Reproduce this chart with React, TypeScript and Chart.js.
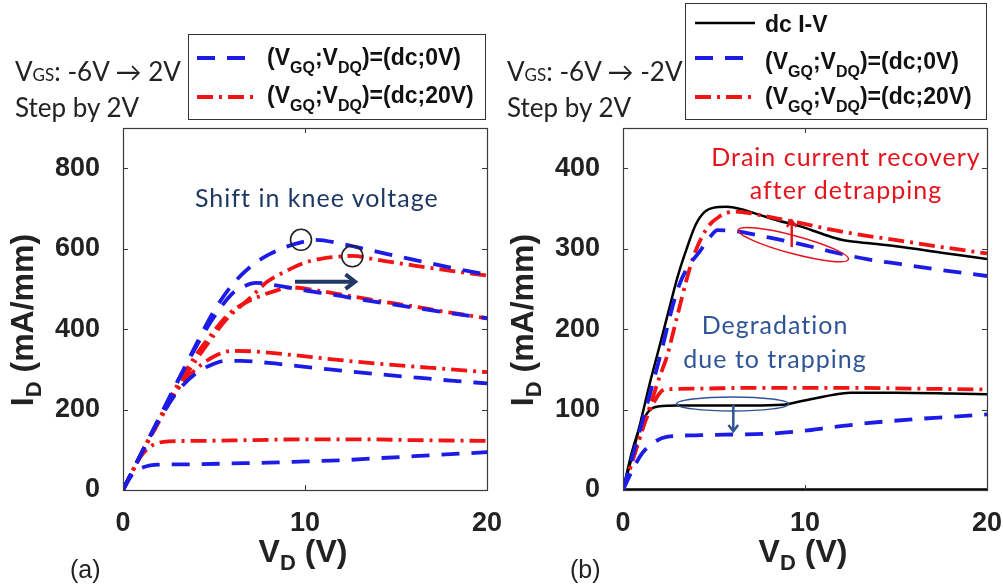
import React, { useEffect, useRef } from "react";
import { Chart, registerables } from "chart.js";
Chart.register(...registerables);

// ---------- ticks ----------
const xTicks = [0, 10, 20];
const yTicksA = [0, 200, 400, 600, 800];
const yTicksB = [0, 100, 200, 300, 400];

// ---------- panel (a) : pulsed I-V ----------
// (VGQ;VDQ)=(dc;0V)  blue dashed
const aBlue1X = [0, 0.5, 1, 1.5, 2, 4, 6, 8, 10, 12, 14, 16, 18, 20];
const aBlue1Y = [0, 38, 54, 61, 63, 64, 66, 68, 71, 74, 79, 84, 89, 94];
const aBlue2X = [0, 1, 2, 3, 4, 5, 5.6, 6.5, 8, 10, 12, 14, 16, 18, 20];
const aBlue2Y = [0, 90, 175, 245, 290, 314, 321, 321, 316, 306, 297, 288, 280, 272, 265];
const aBlue3X = [0, 1, 2, 3, 4, 5, 6, 6.5, 7.3, 8.5, 10, 11.5, 13, 15, 17.5, 20];
const aBlue3Y = [0, 90, 180, 270, 355, 430, 488, 503, 515, 508, 496, 486, 474, 460, 443, 427];
const aBlue4X = [0, 1, 2, 3, 4, 5, 6, 7, 8, 9, 10, 10.6, 12, 14, 16, 18, 20];
const aBlue4Y = [0, 90, 180, 270, 360, 445, 510, 555, 585, 605, 618, 622, 612, 592, 572, 553, 535];
// (VGQ;VDQ)=(dc;20V)  red dash-dot
const aRed1X = [0, 0.5, 1, 1.5, 2, 2.5, 4, 7, 10, 13, 16, 20];
const aRed1Y = [0, 45, 85, 108, 118, 121, 122, 124, 126, 126, 124, 122];
const aRed2X = [0, 1, 2, 3, 4, 5, 6, 7, 9, 11.5, 14, 16, 18, 20];
const aRed2Y = [0, 90, 175, 250, 300, 332, 346, 345, 337, 325, 314, 307, 300, 293];
const aRed3X = [0, 1, 2, 3, 4, 5, 5.7, 6.5, 7.7, 8.5, 9.2, 10.5, 12, 13.4, 16, 18, 20];
const aRed3Y = [0, 90, 178, 262, 335, 395, 433, 460, 485, 497, 504, 497, 486, 475, 456, 441, 427];
const aRed4X = [0, 1, 2, 3, 4, 5, 5.7, 7, 7.9, 9, 10.1, 11, 12, 12.6, 14, 16, 18, 20];
const aRed4Y = [0, 88, 172, 252, 322, 385, 425, 478, 517, 545, 567, 576, 581, 582, 572, 558, 545, 533];

// ---------- panel (b) ----------
// dc I-V black solid
const bDc0X = [0, 20];
const bDc0Y = [0, 0];
const bDc1X = [0, 0.5, 1, 1.5, 2, 3, 5, 7, 8.8, 9.7, 11, 12.5, 15, 18, 20];
const bDc1Y = [0, 48, 82, 100, 104, 105, 105, 105, 106, 110, 116, 121, 121, 120, 119];
const bDc2X = [0, 0.5, 1, 1.5, 2, 2.5, 3, 3.5, 4, 4.5, 5, 5.7, 6.5, 7.5, 8.5, 9.7, 11, 12, 13, 15, 17.5, 20];
const bDc2Y = [0, 42, 88, 135, 178, 222, 265, 300, 330, 346, 351, 352, 349, 342, 335, 328, 318, 311, 308, 303, 295, 287];
// (dc;0V) blue dashed
const bBlue1X = [0, 0.5, 1, 1.5, 2.4, 4, 6, 8, 9.7, 11.5, 13.4, 16, 18, 20];
const bBlue1Y = [0, 24, 44, 56, 66, 68, 69, 70, 73, 78, 83, 88, 91, 94];
const bBlue2X = [0, 1, 2, 2.95, 3.5, 4.2, 4.8, 5.2, 6.1, 8, 9.7, 11.5, 13.4, 15.2, 17, 20];
const bBlue2Y = [0, 80, 163, 246, 275, 296, 315, 323, 322, 314, 306, 296, 287, 281, 275, 266];
// (dc;20V) red dash-dot
const bRed1X = [0, 0.5, 1, 1.5, 2, 2.3, 4, 7, 10, 13, 16, 20];
const bRed1Y = [0, 35, 72, 100, 120, 125, 126, 127, 127, 127, 126, 125];
const bRed2X = [0, 1, 2, 2.4, 3, 3.5, 3.9, 4.6, 5.3, 6.1, 7, 7.9, 9.7, 11.6, 13.4, 15.2, 17.5, 20];
const bRed2Y = [0, 70, 140, 165, 218, 262, 292, 325, 340, 346, 344, 340, 332, 323, 316, 310, 302, 294];

// ---------- annotation anchors (data coords) ----------
const circlesA = [
  [9.78, 622],
  [12.6, 581],
];
const shiftArrowA = [9.45, 12.75, 518];
const redEllipseB = [9.36, 305];
const redArrowB = [9.27, 302, 335];
const blueEllipseB = [6.02, 107];
const blueArrowB = [6.06, 106, 73];

// ---------- styles ----------
const BLUE = "#1c1ce6";
const RED = "#f01414";
const BLACK = "#000000";
const blueDash = [18, 12];
const redDash = [16, 6, 3, 6];
const NAVY = "#1f3864";
const TXTBLUE = "#2f5597";
const TXTRED = "#e5141c";
const SANS = '"Liberation Sans", Arial, sans-serif';
const CAL = 'Lato, "Noto Sans", "DejaVu Sans", sans-serif';
const LW = 3.8;

function pts(xs: number[], ys: number[]) {
  return xs.map((x, i) => ({ x, y: ys[i] }));
}
function series(xs: number[], ys: number[], color: string, dash: number[], width: number) {
  return {
    data: pts(xs, ys),
    showLine: true,
    borderColor: color,
    backgroundColor: color,
    borderWidth: width,
    borderDash: dash,
    pointRadius: 0,
    fill: false,
    cubicInterpolationMode: "monotone",
  };
}

const datasetsA = [
  series(aBlue1X, aBlue1Y, BLUE, blueDash, LW),
  series(aBlue2X, aBlue2Y, BLUE, blueDash, LW),
  series(aBlue3X, aBlue3Y, BLUE, blueDash, LW),
  series(aBlue4X, aBlue4Y, BLUE, blueDash, LW),
  series(aRed1X, aRed1Y, RED, redDash, LW),
  series(aRed2X, aRed2Y, RED, redDash, LW),
  series(aRed3X, aRed3Y, RED, redDash, LW),
  series(aRed4X, aRed4Y, RED, redDash, LW),
];
const datasetsB = [
  series(bBlue1X, bBlue1Y, BLUE, blueDash, LW),
  series(bBlue2X, bBlue2Y, BLUE, blueDash, LW),
  series(bRed1X, bRed1Y, RED, redDash, LW),
  series(bRed2X, bRed2Y, RED, redDash, LW),
  series(bDc0X, bDc0Y, BLACK, [], 3.5),
  series(bDc1X, bDc1Y, BLACK, [], 2.5),
  series(bDc2X, bDc2Y, BLACK, [], 2.5),
];

function drawArrow(ctx: CanvasRenderingContext2D, x1: number, y1: number, x2: number, y2: number, color: string, w: number, h: number) {
  ctx.save();
  ctx.strokeStyle = color;
  ctx.lineWidth = w;
  ctx.setLineDash([]);
  ctx.lineCap = "butt";
  ctx.lineJoin = "miter";
  ctx.beginPath();
  ctx.moveTo(x1, y1);
  ctx.lineTo(x2, y2);
  ctx.stroke();
  const a = Math.atan2(y2 - y1, x2 - x1);
  ctx.beginPath();
  ctx.moveTo(x2 - h * Math.cos(a - 0.65), y2 - h * Math.sin(a - 0.65));
  ctx.lineTo(x2, y2);
  ctx.lineTo(x2 - h * Math.cos(a + 0.65), y2 - h * Math.sin(a + 0.65));
  ctx.stroke();
  ctx.restore();
}

type Panel = {
  left: number;
  right: number;
  top: number;
  bottom: number;
  yMax: number;
  yTicks: number[];
  datasets: any[];
  annotate: (ctx: CanvasRenderingContext2D, xs: any, ys: any) => void;
};

const panelA: Panel = {
  left: 123,
  right: 487,
  top: 128,
  bottom: 490,
  yMax: 900,
  yTicks: yTicksA,
  datasets: datasetsA,
  annotate: (ctx, xs, ys) => {
    ctx.save();
    ctx.strokeStyle = "#222";
    ctx.lineWidth = 1.6;
    ctx.setLineDash([]);
    for (const [cx, cy] of circlesA) {
      ctx.beginPath();
      ctx.arc(xs.getPixelForValue(cx), ys.getPixelForValue(cy), 10.5, 0, Math.PI * 2);
      ctx.stroke();
    }
    ctx.restore();
    const [x1, x2, yv] = shiftArrowA;
    drawArrow(ctx, xs.getPixelForValue(x1), ys.getPixelForValue(yv), xs.getPixelForValue(x2), ys.getPixelForValue(yv), NAVY, 4, 12);
  },
};

const panelB: Panel = {
  left: 623,
  right: 987,
  top: 128,
  bottom: 490,
  yMax: 450,
  yTicks: yTicksB,
  datasets: datasetsB,
  annotate: (ctx, xs, ys) => {
    ctx.save();
    ctx.setLineDash([]);
    ctx.lineWidth = 1.5;
    ctx.strokeStyle = TXTRED;
    ctx.beginPath();
    ctx.ellipse(xs.getPixelForValue(redEllipseB[0]), ys.getPixelForValue(redEllipseB[1]), 57, 9, (15 * Math.PI) / 180, 0, Math.PI * 2);
    ctx.stroke();
    ctx.strokeStyle = TXTBLUE;
    ctx.beginPath();
    ctx.ellipse(xs.getPixelForValue(blueEllipseB[0]), ys.getPixelForValue(blueEllipseB[1]), 56, 7, 0, 0, Math.PI * 2);
    ctx.stroke();
    ctx.restore();
    drawArrow(ctx, xs.getPixelForValue(redArrowB[0]), ys.getPixelForValue(redArrowB[1]), xs.getPixelForValue(redArrowB[0]), ys.getPixelForValue(redArrowB[2]), TXTRED, 2.5, 8);
    drawArrow(ctx, xs.getPixelForValue(blueArrowB[0]), ys.getPixelForValue(blueArrowB[1]), xs.getPixelForValue(blueArrowB[0]), ys.getPixelForValue(blueArrowB[2]), TXTBLUE, 2.5, 8);
  },
};

const W = 1003;
const H = 588;
const tickFont = { family: SANS, weight: "bold" as const, size: 27 };

function noPad(s: any) {
  s.paddingLeft = 0;
  s.paddingRight = 0;
  s.paddingTop = 0;
  s.paddingBottom = 0;
}

function buildChart(canvas: HTMLCanvasElement, p: Panel) {
  const frame = {
    id: "frame",
    afterDatasetsDraw(chart: any) {
      const { ctx, chartArea: a, scales } = chart;
      const xs = scales.x;
      const ys = scales.y;
      ctx.save();
      ctx.setLineDash([]);
      ctx.strokeStyle = "#3a3a3a";
      ctx.lineWidth = 1.2;
      ctx.strokeRect(a.left + 0.5, a.top + 0.5, a.right - a.left, a.bottom - a.top);
      ctx.lineWidth = 1;
      ctx.beginPath();
      for (const v of xTicks) {
        const px = Math.round(xs.getPixelForValue(v)) + 0.5;
        ctx.moveTo(px, a.bottom);
        ctx.lineTo(px, a.bottom - 5);
        ctx.moveTo(px, a.top);
        ctx.lineTo(px, a.top + 5);
      }
      for (const v of p.yTicks) {
        const py = Math.round(ys.getPixelForValue(v)) + 0.5;
        ctx.moveTo(a.left, py);
        ctx.lineTo(a.left + 5, py);
        ctx.moveTo(a.right, py);
        ctx.lineTo(a.right - 5, py);
      }
      ctx.stroke();
      ctx.restore();
      p.annotate(ctx, xs, ys);
    },
  };
  return new Chart(canvas, {
    type: "scatter",
    data: { datasets: p.datasets },
    options: {
      responsive: false,
      animation: false,
      devicePixelRatio: 1,
      events: [],
      layout: { padding: { left: p.left - 123, right: W - p.right, top: p.top, bottom: 0 } },
      scales: {
        x: {
          type: "linear",
          min: 0,
          max: 20,
          afterBuildTicks: (s: any) => {
            s.ticks = xTicks.map((v) => ({ value: v }));
          },
          afterFit: (s: any) => {
            s.height = H - p.bottom;
            noPad(s);
          },
          ticks: { font: tickFont, color: "#222", padding: 9, maxRotation: 0, autoSkip: false },
          grid: { display: false },
          border: { display: false },
        },
        y: {
          type: "linear",
          min: 0,
          max: p.yMax,
          afterBuildTicks: (s: any) => {
            s.ticks = p.yTicks.map((v) => ({ value: v }));
          },
          afterFit: (s: any) => {
            s.width = 123;
            noPad(s);
          },
          ticks: { font: tickFont, color: "#222", padding: 15, autoSkip: false },
          grid: { display: false },
          border: { display: false },
        },
      },
      plugins: { legend: { display: false }, tooltip: { enabled: false } },
    } as any,
    plugins: [frame],
  });
}

const abs = (o: React.CSSProperties): React.CSSProperties => ({ position: "absolute", whiteSpace: "nowrap", ...o });

function Sub({ children, size = 16, drop = 8 }: { children: React.ReactNode; size?: number; drop?: number }) {
  return <span style={{ fontSize: size, position: "relative", top: drop }}>{children}</span>;
}

function LegendRow({ left, baseline, children }: { left: number; baseline: number; children: React.ReactNode }) {
  return (
    <div style={abs({ left, top: baseline - 20.6, fontFamily: SANS, fontWeight: "bold", fontSize: 23, lineHeight: "26px", color: "#111" })}>
      {children}
    </div>
  );
}

function VgsText({ left, end }: { left: number; end: string }) {
  return (
    <>
      <div style={abs({ left, top: 56, fontFamily: CAL, fontSize: 26, lineHeight: "31px", color: "#222" })}>
        V<span style={{ fontSize: 17 }}>GS</span>: -6V → {end}
      </div>
      <div style={abs({ left, top: 92, fontFamily: CAL, fontSize: 26, lineHeight: "31px", color: "#222" })}>Step by 2V</div>
    </>
  );
}

function XLabel({ cx }: { cx: number }) {
  return (
    <div style={abs({ left: cx - 100, top: 531, width: 200, textAlign: "center", fontFamily: SANS, fontWeight: "bold", fontSize: 32, lineHeight: "40px", color: "#222" })}>
      V<Sub size={22} drop={8}>D</Sub> (V)
    </div>
  );
}

function YLabel({ cx }: { cx: number }) {
  return (
    <div
      style={abs({
        left: cx - 120,
        top: 320 - 20,
        width: 240,
        height: 40,
        textAlign: "center",
        fontFamily: SANS,
        fontWeight: "bold",
        fontSize: 32,
        lineHeight: "40px",
        color: "#222",
        transform: "rotate(-90deg)",
        transformOrigin: "center center",
      })}
    >
      I<Sub size={22} drop={8}>D</Sub> (mA/mm)
    </div>
  );
}

export default function App() {
  const refA = useRef<HTMLCanvasElement | null>(null);
  const refB = useRef<HTMLCanvasElement | null>(null);
  useEffect(() => {
    const ca = buildChart(refA.current!, panelA);
    const cb = buildChart(refB.current!, panelB);
    return () => {
      ca.destroy();
      cb.destroy();
    };
  }, []);

  const legendLines = (
    <svg width={W} height={H} style={{ position: "absolute", left: 0, top: 0, pointerEvents: "none" }}>
      <line x1={197} y1={58} x2={252} y2={58} stroke={BLUE} strokeWidth={LW} strokeDasharray="18 12" />
      <line x1={197} y1={97} x2={257} y2={97} stroke={RED} strokeWidth={LW} strokeDasharray="16 6 3 6" />
      <line x1={695} y1={23} x2={755} y2={23} stroke={BLACK} strokeWidth={2.5} />
      <line x1={695} y1={58} x2={750} y2={58} stroke={BLUE} strokeWidth={LW} strokeDasharray="18 12" />
      <line x1={695} y1={97} x2={757} y2={97} stroke={RED} strokeWidth={LW} strokeDasharray="16 6 3 6" />
    </svg>
  );

  const annot = (o: React.CSSProperties) => abs({ fontFamily: CAL, fontSize: 25, letterSpacing: 1, ...o });

  return (
    <div style={{ position: "absolute", left: 0, top: 0, width: W, height: H, overflow: "hidden", background: "#fff" }}>
      <canvas ref={refA} width={W} height={H} style={{ position: "absolute", left: 0, top: 0, width: W, height: H }} />
      <canvas ref={refB} width={W} height={H} style={{ position: "absolute", left: 0, top: 0, width: W, height: H }} />

      {/* legend boxes */}
      <div style={abs({ left: 188, top: 34, width: 298, height: 86, border: "1.5px solid #333", boxSizing: "border-box", background: "#fff" })} />
      <div style={abs({ left: 685, top: 3, width: 302, height: 117, border: "1.5px solid #333", boxSizing: "border-box", background: "#fff" })} />
      {legendLines}
      <LegendRow left={267} baseline={65}>
        (V<Sub>GQ</Sub>;V<Sub>DQ</Sub>)=(dc;0V)
      </LegendRow>
      <LegendRow left={267} baseline={103}>
        (V<Sub>GQ</Sub>;V<Sub>DQ</Sub>)=(dc;20V)
      </LegendRow>
      <LegendRow left={765} baseline={32}>
        dc I-V
      </LegendRow>
      <LegendRow left={765} baseline={69}>
        (V<Sub>GQ</Sub>;V<Sub>DQ</Sub>)=(dc;0V)
      </LegendRow>
      <LegendRow left={765} baseline={104}>
        (V<Sub>GQ</Sub>;V<Sub>DQ</Sub>)=(dc;20V)
      </LegendRow>

      <VgsText left={15} end="2V" />
      <VgsText left={507} end="-2V" />

      {/* annotations text */}
      <div style={annot({ left: 195, top: 182, lineHeight: "30px", color: NAVY })}>Shift in knee voltage</div>
      <div style={annot({ left: 846 - 160, top: 140, width: 320, textAlign: "center", lineHeight: "33px", color: TXTRED })}>
        Drain current recovery
        <br />
        after detrapping
      </div>
      <div style={annot({ left: 775 - 150, top: 307, width: 300, textAlign: "center", lineHeight: "34px", color: TXTBLUE })}>
        Degradation
        <br />
        due to trapping
      </div>

      <XLabel cx={303} />
      <XLabel cx={803} />
      <YLabel cx={22.4} />
      <YLabel cx={522.4} />

      <div style={abs({ left: 70, top: 555, fontFamily: SANS, fontSize: 25, color: "#222" })}>(a)</div>
      <div style={abs({ left: 570, top: 555, fontFamily: SANS, fontSize: 25, color: "#222" })}>(b)</div>
    </div>
  );
}
